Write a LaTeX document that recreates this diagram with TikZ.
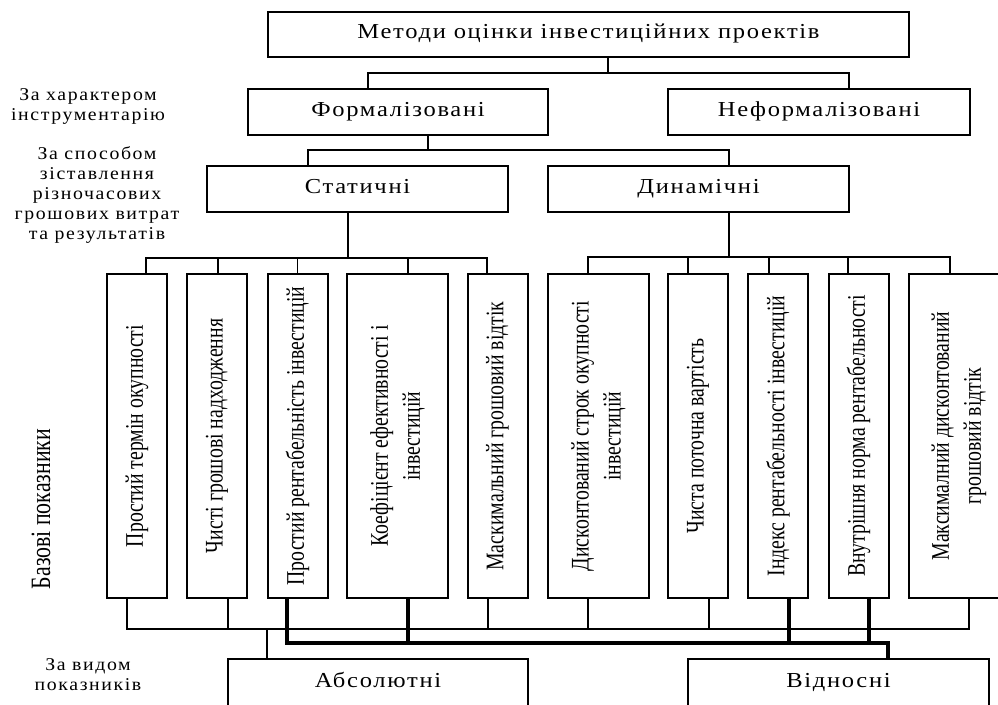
\documentclass[tikz,border=0pt]{standalone}
\usepackage{fontspec}
\setmainfont{Liberation Serif}
\newfontfamily\widefont[FakeStretch=1.15, LetterSpace=8]{Liberation Serif}
\newfontfamily\lblfont[FakeStretch=1.1, LetterSpace=9]{Liberation Serif}
\newfontfamily\tallfont[FakeStretch=0.78]{Liberation Serif}

\begin{document}
\begin{tikzpicture}[x=0.75pt, y=-0.75pt,
    off/.style={xshift=#1*0.75pt},
    box node/.style={draw, line width=1.5pt, inner sep=0pt, outer sep=0pt,
      minimum height=34.5pt, text height=0.8em, text depth=0.16em,
      font=\widefont\fontsize{16}{18}\selectfont},
    vert node/.style={draw, line width=1.5pt, rotate=90, inner sep=0pt, outer sep=0pt,
      minimum width=243pt, minimum height=45pt, align=center,
      font=\tallfont\fontsize{19}{24}\selectfont},
    side label/.style={align=center, inner sep=0pt, font=\lblfont\fontsize{13.5}{15}\selectfont},
    link/.style={line width=1pt},
    bold link/.style={line width=2.4pt}]

  \useasboundingbox (0,0) rectangle (998,704);
  \clip (0,0) rectangle (998,704);

  % levels
  \node[box node, minimum width=480.75pt, minimum height=33.75pt] (metody) at (588.5,34.5) {Методи оцінки інвестиційних проектів};
  \node[box node, minimum width=225pt] (formal) at (398,112) {Формалізовані};
  \node[box node, minimum width=226.5pt] (neformal) at (819,112) {Неформалізовані};
  \node[box node, minimum width=225.75pt] (static) at (357.5,189) {Статичні};
  \node[box node, minimum width=225.75pt] (dynamic) at (698.5,189) {Динамічні};
  \node[box node, minimum width=225pt, minimum height=36pt] (absol) at (378,683) {Абсолютні};
  \node[box node, minimum width=225.75pt, minimum height=36pt] (relat) at (838.5,683) {Відносні};

  % base indicators
  \node[vert node] (s1) at (137,436) {Простий термін окупності};
  \node[vert node] (s2) at (217,436) {Чисті грошові надходження};
  \node[vert node] (s3) at (297.5,436) {Простий рентабельність інвестицій};
  \node[vert node, minimum height=75.75pt] (s4) at (397.5,436) {Коефіцієнт ефективності і\\інвестицій};
  \node[vert node] (s5) at (497.5,436) {Маскимальний грошовий відтік};
  \node[vert node, minimum height=75.75pt] (d1) at (598.5,436) {Дисконтований строк окупності\\інвестицій};
  \node[vert node] (d2) at (698,436) {Чиста поточна вартість};
  \node[vert node] (d3) at (778,436) {Індекс рентабельності інвестицій};
  \node[vert node] (d4) at (858.5,436) {Внутрішня норма рентабельності};
  \node[vert node, minimum height=75.75pt] (d5) at (959,436) {Максималний дисконтований\\грошовий відтік};

  % criteria
  \node[side label] (instr) at (88,106) {За характером\\інструментарію};
  \node[side label] (sposib) at (97,195) {За способом\\зіставлення\\різночасових\\грошових витрат\\та результатів};
  \node[side label, rotate=90, font=\tallfont\fontsize{21}{24}\selectfont] (bazovi) at (41,509) {Базові показники};
  \node[side label] (vyd) at (88,675) {За видом\\показників};

  % tree
  \draw[link] ([off=19.5]metody.south) -- ++(0,16);
  \draw[link] ([off=-30]formal.north) -- ++(0,-16) -| ([off=30]neformal.north);
  \draw[link] ([off=30]formal.south) -- ++(0,15);
  \draw[link] ([off=-49.5]static.north) -- ++(0,-16) -| ([off=30.5]dynamic.north);
  \draw[link] ([off=-9.5]static.south) -- ++(0,46);
  \draw[link] ([off=30.5]dynamic.south) -- ++(0,45);

  \draw[link] ([off=9]s1.east) -- ++(0,-16) -| ([off=-10.5]s5.east);
  \draw[link] ([off=1]s2.east) -- ++(0,-16);
  \draw[link] (s3.east) -- ++(0,-16);
  \draw[link] ([off=10.5]s4.east) -- ++(0,-16);
  \draw[link] ([off=-10.5]d1.east) -- ++(0,-17) -| ([off=-9]d5.east);
  \draw[link] ([off=-10]d2.east) -- ++(0,-17);
  \draw[link] ([off=-9]d3.east) -- ++(0,-17);
  \draw[link] ([off=-10.5]d4.east) -- ++(0,-17);

  % kind of indicators
  \draw[bold link] ([off=-10.5]s3.west) -- ++(0,45) -| ([off=49.5]relat.north);
  \draw[bold link] ([off=10.5]s4.west) -- ++(0,45);
  \draw[bold link] ([off=11]d3.west) -- ++(0,45);
  \draw[bold link] ([off=10.5]d4.west) -- ++(0,45);
  \draw[link] ([off=-10]s1.west) -- ++(0,31) -| ([off=10]d5.west);
  \draw[link] ([off=11]s2.west) -- ++(0,31);
  \draw[link] ([off=-9.5]s5.west) -- ++(0,31);
  \draw[link] ([off=-10.5]d1.west) -- ++(0,31);
  \draw[link] ([off=11]d2.west) -- ++(0,31);
  \draw[link] ([off=-111]absol.north) -- ++(0,-30);
\end{tikzpicture}
\end{document}
